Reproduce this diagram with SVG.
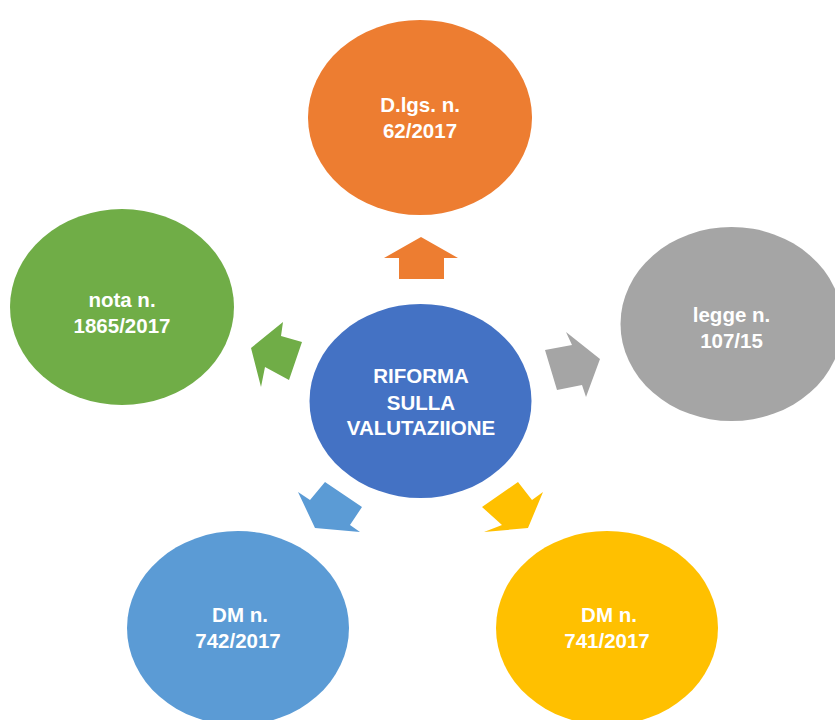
<svg xmlns="http://www.w3.org/2000/svg" width="835" height="720" viewBox="0 0 835 720">
<style>
.t{font-family:"Liberation Sans",Arial,sans-serif;font-weight:bold;font-size:20.5px;fill:#FFFFFF;text-anchor:middle}
</style>
<rect width="835" height="720" fill="#FFFFFF"/>
<g id="connectors">
<polygon points="421,237 458,258 444,258 444,279 399,279 399,258 384,258" fill="#ED7D31"/>
<polygon points="600,359 586,397 582,385 557,390 545,350 572,345 566,332" fill="#A5A5A5"/>
<polygon points="518,482 532,500 543,492 528,528 484,532 502,525 482,507" fill="#FFC000"/>
<polygon points="325,482 362,507 350,525 360,532 315,528 298,492 310,500" fill="#5B9BD5"/>
<polygon points="251,348 283,322 281,336 302,342 289,380 265,367 261,387" fill="#70AD47"/>
</g>
<g id="node-center">
<ellipse cx="420.5" cy="401" rx="111" ry="97" fill="#4472C4"/>
<text class="t" x="421" y="383">RIFORMA</text>
<text class="t" x="421" y="410">SULLA</text>
<text class="t" x="421" y="435">VALUTAZIIONE</text>
</g>
<g id="node-dlgs">
<ellipse cx="420" cy="117.5" rx="112" ry="97.5" fill="#ED7D31"/>
<text class="t" x="420" y="112">D.lgs. n.</text>
<text class="t" x="420" y="138">62/2017</text>
</g>
<g id="node-legge">
<ellipse cx="731.5" cy="324" rx="111" ry="97" fill="#A5A5A5"/>
<text class="t" x="731.5" y="322">legge n.</text>
<text class="t" x="731.5" y="348">107/15</text>
</g>
<g id="node-dm741">
<ellipse cx="607" cy="628" rx="111" ry="97" fill="#FFC000"/>
<text class="t" x="609" y="622">DM n.</text>
<text class="t" x="607" y="648">741/2017</text>
</g>
<g id="node-dm742">
<ellipse cx="238" cy="628" rx="111" ry="97" fill="#5B9BD5"/>
<text class="t" x="240" y="622">DM n.</text>
<text class="t" x="238" y="648">742/2017</text>
</g>
<g id="node-nota">
<ellipse cx="122" cy="307" rx="112" ry="98" fill="#70AD47"/>
<text class="t" x="122" y="307">nota n.</text>
<text class="t" x="122" y="333">1865/2017</text>
</g>
</svg>
